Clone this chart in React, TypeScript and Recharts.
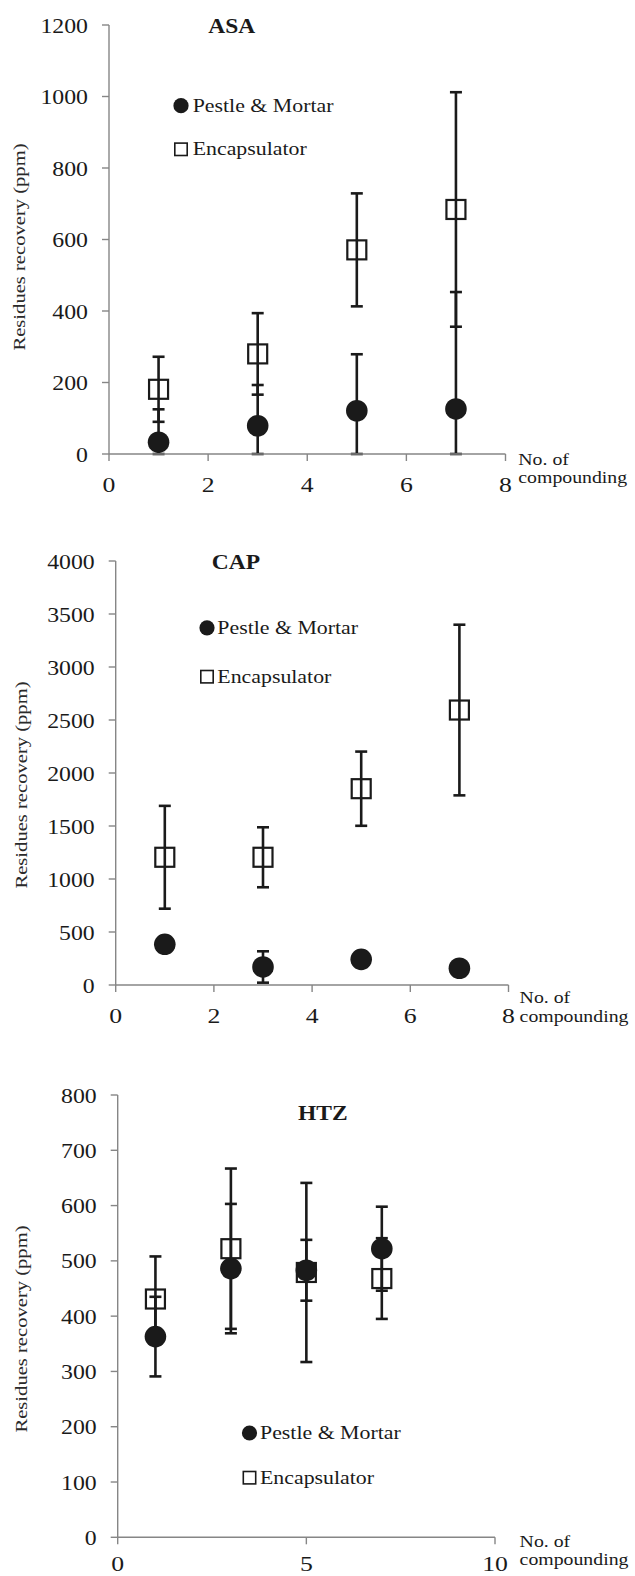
import React from 'react';
import { ScatterChart, Scatter, XAxis, YAxis, ErrorBar, Legend } from 'recharts';

// ---------- data ----------
const xValues = [1, 3, 5, 7];
const seriesNames = ['Pestle & Mortar', 'Encapsulator'];
const yAxisLabel = 'Residues recovery (ppm)';
const xAxisLabelLines = ['No. of', 'compounding'];

const asaTitle = 'ASA';
const asaPestle = [33, 79, 121, 126];
const asaPestleErr = [92, 114, 158, 327];
const asaEncap = [181, 280, 571, 684];
const asaEncapErr = [91, 114, 158, 328];
const asaXTicks = [0, 2, 4, 6, 8];
const asaYTicks = [0, 200, 400, 600, 800, 1000, 1200];

const capTitle = 'CAP';
const capPestle = [384, 170, 242, 158];
const capPestleErr = [40, 148, 40, 40];
const capEncap = [1205, 1205, 1852, 2594];
const capEncapErr = [485, 283, 350, 805];
const capXTicks = [0, 2, 4, 6, 8];
const capYTicks = [0, 500, 1000, 1500, 2000, 2500, 3000, 3500, 4000];

const htzTitle = 'HTZ';
const htzPestle = [363, 486, 483, 522];
const htzPestleErr = [72, 117, 55, 76];
const htzEncap = [431, 522, 479, 468];
const htzEncapErr = [77, 145, 162, 73];
const htzXTicks = [0, 5, 10];
const htzYTicks = [0, 100, 200, 300, 400, 500, 600, 700, 800];

// ---------- style / layout ----------
const INK = '#1a1a1a';
const AXIS = '#868686';
const FONT = "'Liberation Serif', 'Times New Roman', Times, serif";

const layoutASA = {
  top: 0, height: 520,
  plot: { left: 109, right: 505.5, top: 25, bottom: 454 },
  title: { x: 231.7, y: 33.3 },
  legend: { mx: 181, tx: 192.7, y1: 105.7, y2: 149.3 },
  xLab: { x: 518.3, y1: 464.5, y2: 483 },
  yLab: { x: 25, cy: 247 },
  xTickDy: 30.5,
};
const layoutCAP = {
  top: 520, height: 520,
  plot: { left: 115.7, right: 508.5, top: 41, bottom: 465 },
  title: { x: 236, y: 48.7 },
  legend: { mx: 207, tx: 217.3, y1: 107.8, y2: 156.7 },
  xLab: { x: 519.6, y1: 483, y2: 501.5 },
  yLab: { x: 27, cy: 265 },
  xTickDy: 30.5,
};
const layoutHTZ = {
  top: 1040, height: 536,
  plot: { left: 117.7, right: 495, top: 55, bottom: 497.3 },
  title: { x: 322.8, y: 80 },
  legend: { mx: 249.5, tx: 260, y1: 393, y2: 437.7 },
  xLab: { x: 519.6, y1: 506.5, y2: 525 },
  yLab: { x: 27, cy: 289 },
  xTickDy: 26.5,
};

function STxt({ x, y, anchor = 'start', size, sx = 1, bold = false, rotate = 0, fill = INK, children }: any) {
  const t = `translate(${x},${y})${rotate ? ` rotate(${rotate})` : ''} scale(${sx},1)`;
  return (
    <text
      transform={t}
      textAnchor={anchor}
      fill={fill}
      style={{ fontFamily: FONT, fontSize: size, fontWeight: bold ? 700 : 400 }}
    >
      {children}
    </text>
  );
}

function makeXTick(dy: number) {
  return function XTick(props: any) {
    const { x, y, payload } = props;
    return <STxt x={x} y={y + dy} anchor="middle" size={22} sx={1.17}>{payload.value}</STxt>;
  };
}

function YTick(props: any) {
  const { x, y, payload } = props;
  return <STxt x={x - 14} y={y + 7.5} anchor="end" size={20.5} sx={1.16}>{payload.value}</STxt>;
}

const circleShape = (p: any) => <circle cx={p.cx} cy={p.cy} r={10.8} fill={INK} />;
const squareShape = (p: any) => (
  <rect x={p.cx - 9.5} y={p.cy - 9.5} width={19} height={19} fill="none" stroke={INK} strokeWidth={2.2} />
);

function LegendBox({ cfg }: any) {
  const lg = cfg.legend;
  return (
    <svg width={635} height={cfg.height} style={{ display: 'block', overflow: 'visible' }}>
      <circle cx={lg.mx} cy={lg.y1} r={7.6} fill={INK} />
      <rect x={lg.mx - 6.2} y={lg.y2 - 6.2} width={12.4} height={12.4} fill="none" stroke={INK} strokeWidth={1.6} />
      <STxt x={lg.tx} y={lg.y1 + 6} size={19} sx={1.15}>{seriesNames[0]}</STxt>
      <STxt x={lg.tx} y={lg.y2 + 6} size={19} sx={1.15}>{seriesNames[1]}</STxt>
    </svg>
  );
}

// error bars are cut at the x axis, as in the original plot
const toPoints = (vals: number[], errs: number[]) =>
  xValues.map((x, i) => ({ x, y: vals[i], err: [Math.min(errs[i], vals[i]), errs[i]] }));

function Panel({ cfg, title, pestle, pestleErr, encap, encapErr, xTicks, yTicks }: any) {
  const { top, height, plot } = cfg;
  const pData = toPoints(pestle, pestleErr);
  const eData = toPoints(encap, encapErr);
  const xMax = xTicks[xTicks.length - 1];
  const yMax = yTicks[yTicks.length - 1];
  const XTick = makeXTick(cfg.xTickDy);
  return (
    <div style={{ position: 'absolute', left: 0, top, width: 635, height }}>
      <ScatterChart
        width={635}
        height={height}
        margin={{ top: plot.top, right: 635 - plot.right, bottom: 0, left: 0 }}
      >
        <XAxis
          type="number"
          dataKey="x"
          domain={[0, xMax]}
          ticks={xTicks}
          interval={0}
          allowDataOverflow
          height={height - plot.bottom}
          tickSize={7}
          tickMargin={0}
          axisLine={{ stroke: AXIS, strokeWidth: 1.4 }}
          tickLine={{ stroke: AXIS, strokeWidth: 1.4 }}
          tick={<XTick />}
        />
        <YAxis
          type="number"
          dataKey="y"
          domain={[0, yMax]}
          ticks={yTicks}
          interval={0}
          allowDataOverflow
          width={plot.left}
          tickSize={7}
          tickMargin={0}
          axisLine={{ stroke: AXIS, strokeWidth: 1.4 }}
          tickLine={{ stroke: AXIS, strokeWidth: 1.4 }}
          tick={<YTick />}
        />
        <Scatter name={seriesNames[1]} data={eData} shape={squareShape} isAnimationActive={false}>
          <ErrorBar dataKey="err" direction="y" width={6} strokeWidth={2.6} stroke={INK} isAnimationActive={false} />
        </Scatter>
        <Scatter name={seriesNames[0]} data={pData} shape={circleShape} isAnimationActive={false}>
          <ErrorBar dataKey="err" direction="y" width={6} strokeWidth={2.6} stroke={INK} isAnimationActive={false} />
        </Scatter>
        <Legend
          layout="vertical"
          align="center"
          verticalAlign="middle"
          wrapperStyle={{ left: 0, top: 0, width: 635, height, pointerEvents: 'none' }}
          content={() => <LegendBox cfg={cfg} />}
        />
        <STxt x={cfg.title.x} y={cfg.title.y} anchor="middle" size={21} sx={1.12} bold>{title}</STxt>
        <STxt x={cfg.xLab.x} y={cfg.xLab.y1} size={16.5} sx={1.2}>{xAxisLabelLines[0]}</STxt>
        <STxt x={cfg.xLab.x} y={cfg.xLab.y2} size={16.5} sx={1.2}>{xAxisLabelLines[1]}</STxt>
        <STxt x={cfg.yLab.x} y={cfg.yLab.cy} anchor="middle" size={16.5} sx={1.25} rotate={-90} fill="#2a2a2a">{yAxisLabel}</STxt>
      </ScatterChart>
    </div>
  );
}

export default function App() {
  return (
    <div style={{ position: 'absolute', left: 0, top: 0, width: 635, height: 1576, background: '#fff', overflow: 'hidden' }}>
      <Panel cfg={layoutASA} title={asaTitle} pestle={asaPestle} pestleErr={asaPestleErr} encap={asaEncap} encapErr={asaEncapErr} xTicks={asaXTicks} yTicks={asaYTicks} />
      <Panel cfg={layoutCAP} title={capTitle} pestle={capPestle} pestleErr={capPestleErr} encap={capEncap} encapErr={capEncapErr} xTicks={capXTicks} yTicks={capYTicks} />
      <Panel cfg={layoutHTZ} title={htzTitle} pestle={htzPestle} pestleErr={htzPestleErr} encap={htzEncap} encapErr={htzEncapErr} xTicks={htzXTicks} yTicks={htzYTicks} />
    </div>
  );
}
